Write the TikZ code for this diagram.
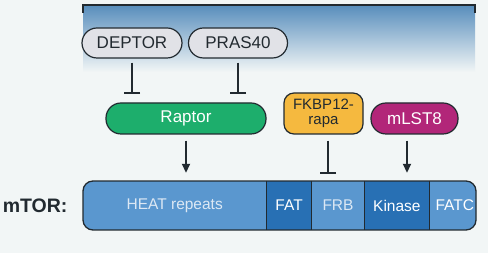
\documentclass[tikz,border=0pt]{standalone}
\usepackage{fontspec}
\setmainfont{Liberation Sans}
\usepackage{tikz}
\usetikzlibrary{arrows.meta, positioning, calc}

\definecolor{bgc}{HTML}{F2F6F6}
\definecolor{topblue}{HTML}{5A8FBD}
\definecolor{inkc}{HTML}{222A30}
\definecolor{pillgray}{HTML}{E1E2E7}
\definecolor{raptorgreen}{HTML}{1DAE6C}
\definecolor{fkbpyellow}{HTML}{F5B93F}
\definecolor{lstmagenta}{HTML}{B22679}
\definecolor{lightseg}{HTML}{5A97CF}
\definecolor{darkseg}{HTML}{2870B4}
\definecolor{segtext}{HTML}{DCE8F4}

\begin{document}
\begin{tikzpicture}[x=1pt, y=-1pt,
  pill/.style={draw=inkc, line width=1.2pt, rounded corners=15pt, minimum height=30pt, inner sep=0pt, font=\fontsize{17}{19}\selectfont, fill=#1},
  seg/.style={draw=none, minimum height=49pt, inner sep=0pt, anchor=west, font=\fontsize{15.5}{17}\selectfont, fill=#1},
  inh/.style={-{Bar[width=16pt, line width=2pt]}, line width=2pt, inkc},
  act/.style={-{Triangle[length=9pt, width=8pt]}, line width=1.8pt, inkc}
]

\useasboundingbox[fill=bgc] (0,0) rectangle (488,253);
\shade[top color=topblue, bottom color=bgc] (83,6) rectangle (475,72);
\draw[inkc, line width=2pt] (83,13) -- (83,5) -- (475,5) -- (475,13);

\node[pill=pillgray, minimum width=100pt, text=inkc] (deptor) at (132,43) {DEPTOR};
\node[pill=pillgray, minimum width=99pt, text=inkc] (pras) at (238,43) {PRAS40};

\node[pill=raptorgreen, minimum width=160pt, minimum height=31pt, text=white] (raptor) at (186,118.5) {Raptor};
\node[pill=fkbpyellow, minimum width=79pt, minimum height=41pt, rounded corners=10pt, text=inkc, align=center,
  font=\fontsize{15}{15}\selectfont] (fkbp) at (323.5,113.5) {FKBP12-\\rapa};
\node[pill=lstmagenta, minimum width=87pt, minimum height=31pt, text=white] (mlst) at (414.5,118.5) {mLST8};

\begin{scope}
\clip[rounded corners=10pt] (83,181) rectangle (476,230);
\node[seg=lightseg, minimum width=183pt, text=segtext] (heat) at (83,205.5) {HEAT repeats};
\node[seg=darkseg, minimum width=45pt, text=white, right=0pt of heat] (fat) {FAT};
\node[seg=lightseg, minimum width=52pt, text=segtext, right=0pt of fat] (frb) {FRB};
\node[seg=darkseg, minimum width=65pt, text=white, right=0pt of frb] (kinase) {Kinase};
\node[seg=lightseg, minimum width=50pt, text=white, right=0pt of kinase] (fatc) {FATC};
\end{scope}
\foreach \s in {heat, fat, frb, kinase}
  \draw[inkc, line width=1pt] (\s.north east) -- (\s.south east);
\draw[inkc, line width=1.3pt, rounded corners=10pt] (83,181) rectangle (476,230);

\node[anchor=east, font=\fontsize{19.5}{21}\bfseries, text=inkc] (mtor) at (71,206) {mTOR:};

\coordinate (fkbpout) at ($(fkbp.south)+(4.5,0)$);
\coordinate (mlstout) at ($(mlst.south)+(-7.5,0)$);

\draw[inh, shorten <=4pt, shorten >=8pt] (deptor.south) -- (deptor.south |- raptor.north);
\draw[inh, shorten <=4pt, shorten >=8pt] (pras.south) -- (pras.south |- raptor.north);
\draw[act, shorten <=6pt, shorten >=8pt] (raptor.south) -- (raptor.south |- heat.north);
\draw[inh, shorten <=6pt, shorten >=7pt] (fkbpout) -- (fkbpout |- frb.north);
\draw[act, shorten <=6pt, shorten >=8pt] (mlstout) -- (mlstout |- kinase.north);

\end{tikzpicture}
\end{document}
